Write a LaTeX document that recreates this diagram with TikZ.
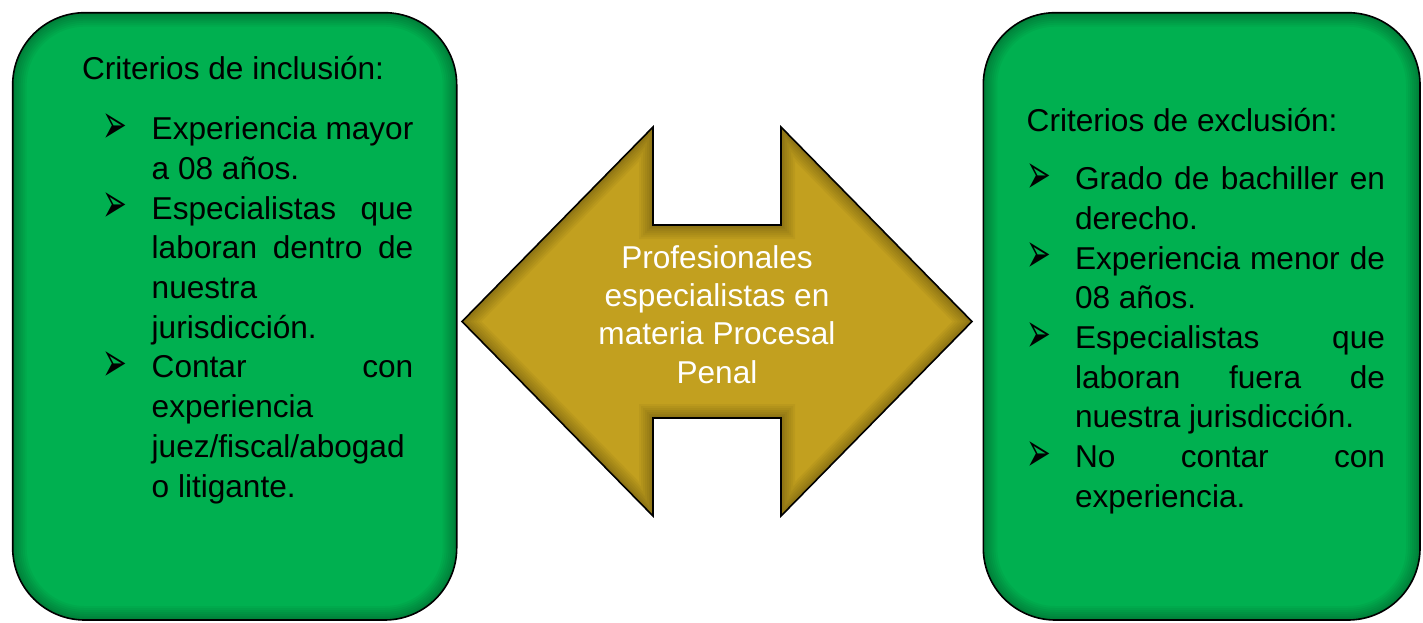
\documentclass[tikz,border=0pt]{standalone}
\usepackage{fontspec}
\usepackage{graphicx}
\setmainfont{Liberation Sans}[Ligatures={TeX,NoCommon}]
\newfontfamily\dejavu{DejaVu Sans}
\definecolor{boxgreen}{RGB}{0,176,80}
\definecolor{arrowgold}{RGB}{194,160,31}
\newlength\txtw
\newlength\bulx
\newlength\txtx
\newcommand\bul{\raisebox{-3.8pt}{\scalebox{0.74}[1.4]{\dejavu\fontsize{40pt}{40pt}\selectfont ➢}}}
\newcommand\jl[1]{\hbox to \txtw{\spaceskip=.278em plus 1fil\relax #1}}
\newcommand\lline[1]{\hbox to \txtw{#1\hfil}}
\newcommand\firstl[1]{\hbox{\hskip\bulx\hbox to \dimexpr\txtx-\bulx\relax{\bul\hss}#1}}
\newcommand\nextl[1]{\hbox{\hskip\txtx #1}}
\newcommand\ctrline[1]{\hbox to \hsize{\hfil #1\hfil}}
\newcommand\txtsetup{\fontsize{31.6pt}{39.7pt}\selectfont\baselineskip=39.7pt\lineskiplimit=-1000pt\lineskip=0pt}
\tikzset{
  gbox/.style={draw=black, line width=1.6pt, fill=boxgreen, rounded corners=72pt, inner sep=0pt,
    path picture={\foreach \w in {28,24,20,16,12,8,5,2}
      \draw[black, opacity=0.04, line width=\w pt, rounded corners=72pt]
        (path picture bounding box.south west) rectangle (path picture bounding box.north east);}},
  txt/.style={inner sep=0pt, outer sep=0pt, anchor=base west, text=black}
}
\begin{document}
\begin{tikzpicture}[x=1pt,y=-1pt]
\useasboundingbox (0,0) rectangle (1423,622);
% boxes
\node[gbox, minimum width=444pt, minimum height=607.3pt] (incbox) at (234.7,316.35) {};
\node[gbox, minimum width=436.7pt, minimum height=607.3pt] (excbox) at (1201.65,316.35) {};
% double arrow
\coordinate (a1) at (462,321.5);
\coordinate (a2) at (653,127);
\coordinate (a3) at (653,225);
\coordinate (a4) at (781,225);
\coordinate (a5) at (781,127);
\coordinate (a6) at (972,321.5);
\coordinate (a7) at (781,516);
\coordinate (a8) at (781,418);
\coordinate (a9) at (653,418);
\coordinate (a10) at (653,516);
\path[draw=black, line width=1.6pt, fill=arrowgold, line join=miter,
  path picture={\foreach \w in {28,24,20,16,12,8,5,2}
    \draw[black, opacity=0.04, line width=\w pt, line join=miter]
      (a1)--(a2)--(a3)--(a4)--(a5)--(a6)--(a7)--(a8)--(a9)--(a10)--cycle;}]
  (a1)--(a2)--(a3)--(a4)--(a5)--(a6)--(a7)--(a8)--(a9)--(a10)--cycle;
% left text
\node[txt] (inctext) at (82,79.4) {\vtop{\txtsetup
  \setlength\txtw{261.6pt}\setlength\bulx{20.7pt}\setlength\txtx{69.7pt}
  \hbox{Criterios de inclusión:}
  \vskip 20.6pt
  \firstl{\jl{Experiencia mayor}}
  \nextl{\lline{a 08 años.}}
  \firstl{\jl{Especialistas que}}
  \nextl{\jl{laboran dentro de}}
  \nextl{\lline{nuestra}}
  \nextl{\lline{jurisdicción.}}
  \firstl{\jl{Contar con}}
  \nextl{\lline{experiencia}}
  \nextl{\lline{juez/fiscal/abogad}}
  \nextl{\lline{o litigante.}}
}};
% right text
\node[txt] (exctext) at (1026.7,131) {\vtop{\txtsetup
  \setlength\txtw{310pt}\setlength\bulx{-0.7pt}\setlength\txtx{48.3pt}
  \hbox{Criterios de exclusión:}
  \vskip 19pt
  \firstl{\jl{Grado de bachiller en}}
  \nextl{\lline{derecho.}}
  \firstl{\jl{Experiencia menor de}}
  \nextl{\lline{08 años.}}
  \firstl{\jl{Especialistas que}}
  \nextl{\jl{laboran fuera de}}
  \nextl{\lline{nuestra jurisdicción.}}
  \firstl{\jl{No contar con}}
  \nextl{\lline{experiencia.}}
}};
% center text
\node[inner sep=0pt, anchor=base, text=white] (centertext) at (717,268) {\vtop{\txtsetup
  \baselineskip=38.4pt\hsize=320pt
  \ctrline{Profesionales}
  \ctrline{especialistas en}
  \ctrline{materia Procesal}
  \ctrline{Penal}
}};
\end{tikzpicture}
\end{document}
